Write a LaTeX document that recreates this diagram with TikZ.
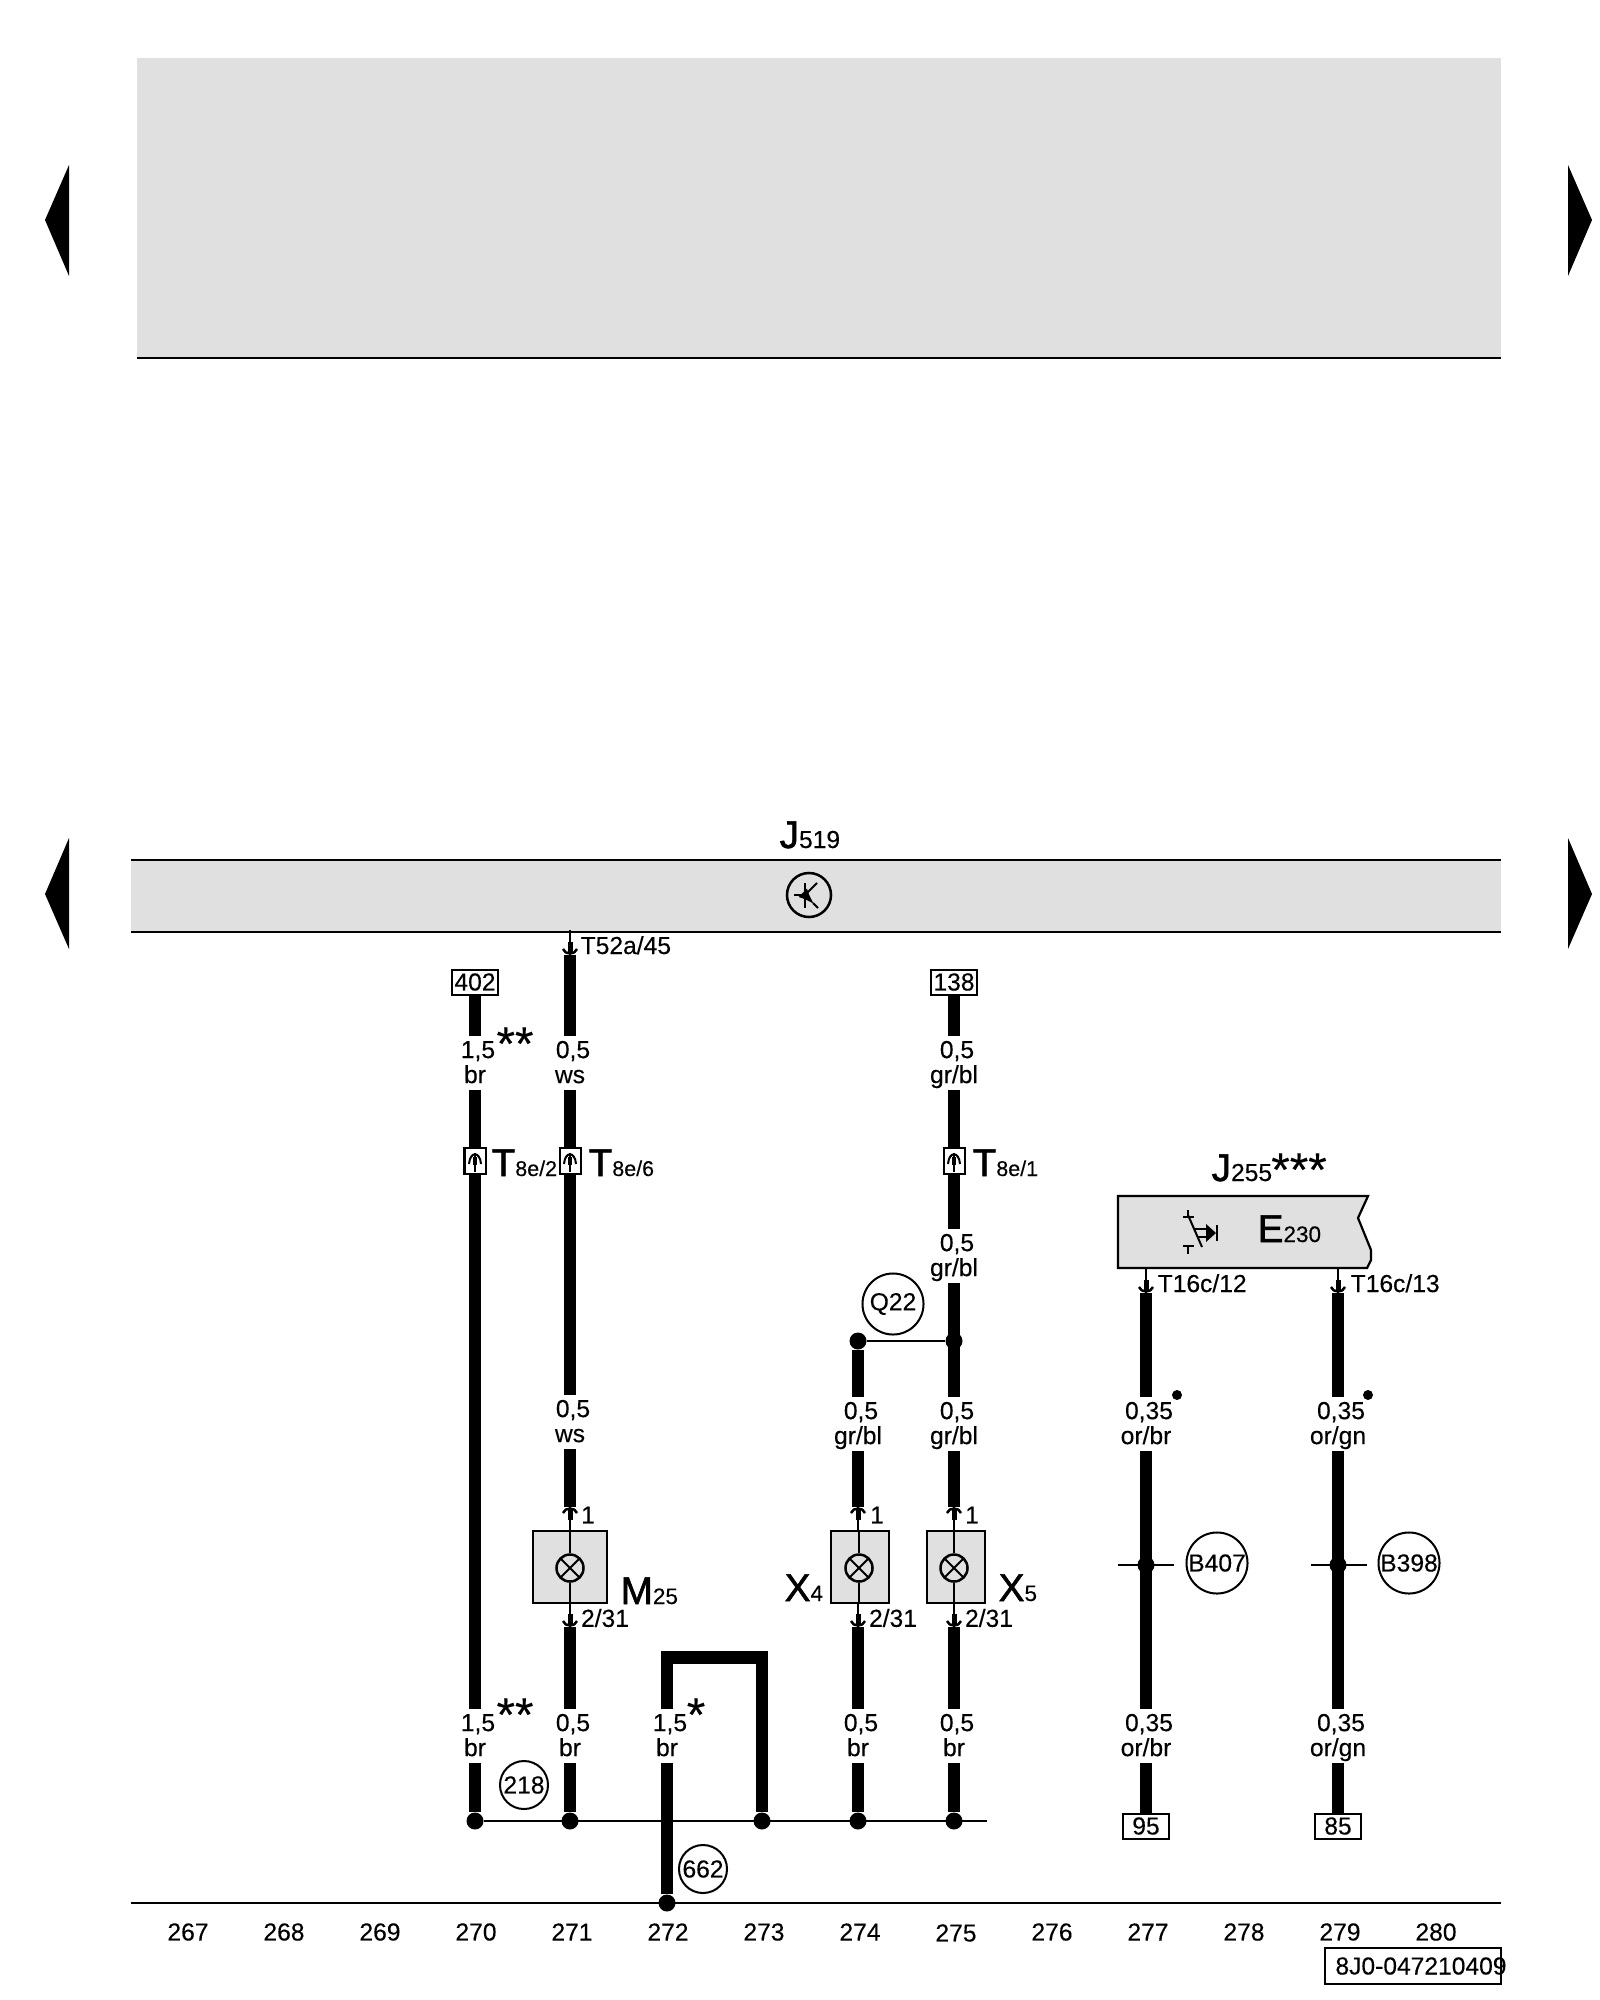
\documentclass[tikz,border=0pt]{standalone}
\usepackage{fontspec}
\setmainfont[FakeBold=0.25]{Liberation Sans}
\newfontfamily\bigfam[FakeBold=1.5]{Liberation Sans}
\usetikzlibrary{positioning}
\definecolor{panelgray}{HTML}{E0E0E0}
\newcommand{\wfont}{\fontsize{7}{7.1}\selectfont}
\newcommand{\sfont}{\fontsize{6.4}{7.1}\selectfont}
\newcommand{\tfont}{\fontsize{6.1}{7.1}\selectfont}
\newcommand{\bfont}{\bigfam\fontsize{11}{12}\selectfont}
\newcommand{\wlab}[2]{\hspace*{1.7pt}#1\rule{0pt}{6pt}\\#2\rule[-1.7pt]{0pt}{1.7pt}}
\newcommand{\plab}[2]{{\bfont #1}{\sfont #2}}
\newcommand{\jlab}[2]{{\bfont #1}{\wfont #2}}
\newcommand{\tlab}[2]{{\bfont #1}{\tfont #2}}
\tikzset{
  wire/.style={line width=0.125cm},
  fine/.style={line width=0.022cm},
  panel/.style={fill=panelgray},
  device/.style={draw,fill=panelgray,line width=0.022cm},
  wlabel/.style={align=center},
  termbox/.style={draw,fill=white,line width=0.02cm,minimum width=0.46cm,minimum height=0.25cm},
  plugbox/.style={draw,fill=white,line width=0.02cm,minimum width=0.21cm,minimum height=0.26cm},
  jdot/.style={circle,fill=black,minimum size=0.17cm},
  ringsmall/.style={draw,circle,line width=0.02cm,minimum size=0.48cm},
  ringbig/.style={draw,circle,line width=0.02cm,minimum size=0.61cm},
  lamp/.style={draw,circle,line width=0.025cm,minimum size=0.27cm,path picture={
    \draw[line width=0.02cm] (path picture bounding box.north west) -- (path picture bounding box.south east);
    \draw[line width=0.02cm] (path picture bounding box.north east) -- (path picture bounding box.south west);}},
  stars/.style={font=\fontsize{13.5}{14}\selectfont,anchor=base},
  big/.style={anchor=base west},
  pinsym/.pic={
    \draw[line width=0.018cm] (0,-25) -- (0,0);
    \draw[line width=0.05cm] (0,-13) -- (0,-3);
    \draw[line width=0.025cm] (-7,-6) .. controls (-5,0) and (5,0) .. (7,-6);
  },
  plugsym/.pic={
    \draw[line width=0.015cm] (0,-8) -- (0,11);
    \draw[line width=0.04cm] (0,-4) -- (0,4);
    \draw[line width=0.02cm] (-6,3) .. controls (-5,-10) and (5,-10) .. (6,3);
  }
}
\begin{document}
\begin{tikzpicture}[x=0.01cm,y=-0.01cm,every node/.style={font=\wfont,inner sep=0pt}]
  \useasboundingbox (0,0) rectangle (1600,2000);

  % page markers and the two panels
  \fill (69,165) -- (69,276) -- (45,220) -- cycle;
  \fill (1568,165) -- (1568,276) -- (1592,220) -- cycle;
  \fill (69,838) -- (69,949) -- (45,894) -- cycle;
  \fill (1568,838) -- (1568,949) -- (1592,894) -- cycle;
  \fill[panel] (137,58) rectangle (1501,358);
  \draw[line width=0.025cm] (137,358) -- (1501,358);
  \fill[panel] (131,860) rectangle (1501,932);
  \draw[line width=0.025cm] (131,860) -- (1501,860);
  \draw[line width=0.025cm] (131,932) -- (1501,932);
  \node[big] (j519) at (779,848) {\jlab{J}{519}};

  % transistor sign
  \node[draw,circle,line width=0.025cm,minimum size=0.44cm] (trans) at (809,895) {};
  \draw[line width=0.02cm] (794,895) -- (805,895);
  \draw[line width=0.02cm] (805,883) -- (805,908);
  \draw[line width=0.02cm] (805,895) -- (817,883);
  \draw[line width=0.02cm,-latex] (805,895) -- (814,904);
  \draw[line width=0.02cm] (813,903) -- (818,908);

  % J255 / E230 block
  \fill[panel,draw=black,line width=0.022cm] (1118,1196) -- (1368,1196) -- (1358,1218) -- (1371,1250)
    -- (1371,1260) -- (1367,1268) -- (1118,1268) -- cycle;
  \node[big] (j255) at (1211,1181) {\jlab{J}{255}};
  \node[stars] (s255) at (1299,1186) {***};
  \node[big] (e230) at (1257,1242) {\plab{E}{230}};
  \draw[line width=0.02cm] (1188,1210) -- (1188,1217);
  \draw[line width=0.02cm] (1183,1217) -- (1194,1217);
  \draw[line width=0.02cm] (1188,1215) -- (1202,1247);
  \draw[line width=0.02cm] (1183,1246) -- (1194,1246);
  \draw[line width=0.02cm] (1188,1246) -- (1188,1254);
  \draw[line width=0.015cm] (1195,1229) -- (1207,1229);
  \draw[line width=0.015cm] (1198,1237) -- (1207,1237);
  \fill (1206,1224) -- (1216,1233) -- (1206,1242) -- cycle;
  \draw[line width=0.02cm] (1217,1225) -- (1217,1241);

  % devices
  \node[device,minimum width=0.74cm,minimum height=0.72cm] (m25) at (570,1567) {};
  \node[device,minimum width=0.58cm,minimum height=0.72cm] (x4) at (860,1567) {};
  \node[device,minimum width=0.58cm,minimum height=0.72cm] (x5) at (956,1567) {};
  \node[lamp] (lm25) at (570,1568) {};
  \node[lamp] (lx4) at (859,1568) {};
  \node[lamp] (lx5) at (954,1568) {};
  \draw[fine] (lm25 |- m25.north) -- (lm25);
  \draw[fine] (lm25) -- (lm25 |- m25.south);
  \draw[fine] (lx4 |- x4.north) -- (lx4);
  \draw[fine] (lx4) -- (lx4 |- x4.south);
  \draw[fine] (lx5 |- x5.north) -- (lx5);
  \draw[fine] (lx5) -- (lx5 |- x5.south);
  \node[big] (tm25) at (620,1604) {\plab{M}{25}};
  \node[big] (tx4) at (784,1601) {\plab{X}{4}};
  \node[big] (tx5) at (998,1601) {\plab{X}{5}};

  % terminals and plugs
  \node[termbox] (t402) at (475,982) {402};
  \node[termbox] (t138) at (954,982) {138};
  \node[termbox] (t95) at (1146,1826) {95};
  \node[termbox] (t85) at (1338,1826) {85};
  \node[plugbox] (p2) at (475,1161) {};
  \node[plugbox] (p6) at (570,1161) {};
  \node[plugbox] (p1) at (954,1161) {};
  \pic at (p2) {plugsym};
  \pic at (p6) {plugsym};
  \pic at (p1) {plugsym};
  \node[big] (tp2) at (491,1176) {\tlab{T}{8e/2}};
  \node[big] (tp6) at (588,1176) {\tlab{T}{8e/6}};
  \node[big] (tp1) at (972,1176) {\tlab{T}{8e/1}};

  % wire labels
  \node[wlabel] (a1) at (475,1063) {\wlab{1,5}{br}};
  \node[wlabel] (a2) at (570,1063) {\wlab{0,5}{ws}};
  \node[wlabel] (a3) at (954,1063) {\wlab{0,5}{gr/bl}};
  \node[wlabel] (a4) at (954,1256) {\wlab{0,5}{gr/bl}};
  \node[wlabel] (a5) at (570,1422) {\wlab{0,5}{ws}};
  \node[wlabel] (a6) at (858,1424) {\wlab{0,5}{gr/bl}};
  \node[wlabel] (a7) at (954,1424) {\wlab{0,5}{gr/bl}};
  \node[wlabel] (a8) at (1146,1424) {\wlab{0,35}{or/br}};
  \node[wlabel] (a9) at (1338,1424) {\wlab{0,35}{or/gn}};
  \node[wlabel] (b1) at (475,1736) {\wlab{1,5}{br}};
  \node[wlabel] (b2) at (570,1736) {\wlab{0,5}{br}};
  \node[wlabel] (b3) at (667,1736) {\wlab{1,5}{br}};
  \node[wlabel] (b4) at (858,1736) {\wlab{0,5}{br}};
  \node[wlabel] (b5) at (954,1736) {\wlab{0,5}{br}};
  \node[wlabel] (b6) at (1146,1736) {\wlab{0,35}{or/br}};
  \node[wlabel] (b7) at (1338,1736) {\wlab{0,35}{or/gn}};
  \node[stars] (s1) at (515,1060) {**};
  \node[stars] (s2) at (515,1731) {**};
  \node[stars] (s3) at (696,1731) {*};
  \node[circle,fill=black,minimum size=0.1cm] (m1) at (1177,1395) {};
  \node[circle,fill=black,minimum size=0.1cm] (m2) at (1368,1395) {};

  % pin ends
  \coordinate (q1) at (570,955);
  \coordinate (q2) at (570,1507);
  \coordinate (q3) at (570,1627);
  \coordinate (q4) at (858,1507);
  \coordinate (q5) at (858,1627);
  \coordinate (q6) at (954,1507);
  \coordinate (q7) at (954,1627);
  \coordinate (q8) at (1146,1293);
  \coordinate (q9) at (1338,1293);
  \pic at (q1) {pinsym};
  \pic[yscale=-1] at (q2) {pinsym};
  \pic at (q3) {pinsym};
  \pic[yscale=-1] at (q4) {pinsym};
  \pic at (q5) {pinsym};
  \pic[yscale=-1] at (q6) {pinsym};
  \pic at (q7) {pinsym};
  \pic at (q8) {pinsym};
  \pic at (q9) {pinsym};
  \node[anchor=base west] (c1) at (580,954) {T52a/45};
  \node (c2) at (588,1515) {1};
  \node (c3) at (605,1618) {2/31};
  \node (c4) at (877,1515) {1};
  \node (c5) at (893,1618) {2/31};
  \node (c6) at (972,1515) {1};
  \node (c7) at (989,1618) {2/31};
  \node[anchor=base west] (c8) at (1157,1292) {T16c/12};
  \node[anchor=base west] (c9) at (1350,1292) {T16c/13};

  % joints
  \node[jdot] (d1) at (475,1821) {};
  \node[jdot] (d2) at (570,1821) {};
  \node[jdot] (d3) at (762,1821) {};
  \node[jdot] (d4) at (858,1821) {};
  \node[jdot] (d5) at (954,1821) {};
  \node[jdot] (d6) at (667,1903) {};
  \node[jdot] (d7) at (858,1341) {};
  \node[jdot] (d8) at (954,1341) {};
  \node[jdot] (d9) at (1146,1565) {};
  \node[jdot] (d10) at (1338,1565) {};
  \coordinate (busend) at (987,1821);
  \coordinate (lineleft) at (131,1903);
  \coordinate (lineright) at (1501,1903);
  \coordinate (k1) at (667,1657.5);
  \coordinate (k2) at (762,1657.5);

  % wires
  \draw[wire] (t402) -- (a1);
  \draw[wire] (a1) -- (p2);
  \draw[wire] (p2) -- (b1);
  \draw[wire] (b1) -- (d1);
  \draw[wire] (q1) -- (a2);
  \draw[wire] (a2) -- (p6);
  \draw[wire] (p6) -- (a5);
  \draw[wire] (a5) -- (q2);
  \draw[wire] (q3) -- (b2);
  \draw[wire] (b2) -- (d2);
  \draw[wire] (b3) -- (k1) -- (k2) -- (d3);
  \draw[wire] (b3) -- (d6);
  \draw[wire] (d7) -- (a6);
  \draw[wire] (a6) -- (q4);
  \draw[wire] (q5) -- (b4);
  \draw[wire] (b4) -- (d4);
  \draw[wire] (t138) -- (a3);
  \draw[wire] (a3) -- (p1);
  \draw[wire] (p1) -- (a4);
  \draw[wire] (a4) -- (a7);
  \draw[wire] (a7) -- (q6);
  \draw[wire] (q7) -- (b5);
  \draw[wire] (b5) -- (d5);
  \draw[wire] (q8) -- (a8);
  \draw[wire] (a8) -- (b6);
  \draw[wire] (b6) -- (t95);
  \draw[wire] (q9) -- (a9);
  \draw[wire] (a9) -- (b7);
  \draw[wire] (b7) -- (t85);
  \draw[fine] (d1) -- (busend);
  \draw[fine] (d7) -- (d8);
  \draw[fine] (1118,1565) -- (1174,1565);
  \draw[fine] (1311,1565) -- (1367,1565);
  \draw[line width=0.025cm] (lineleft) -- (lineright);

  % ring marks
  \node[ringbig] (q22) at (893,1304) {Q22};
  \node[ringbig] (b407) at (1217,1563) {B407};
  \node[ringbig] (b398) at (1409,1563) {B398};
  \node[ringsmall] (r218) at (524,1785) {218};
  \node[ringsmall] (r662) at (703,1869) {662};

  % column numbers
  \begin{scope}[every node/.style={font=\wfont,inner sep=0pt}]
    \node (n267) at (188,1932) {267};
    \node (n268) at (284,1932) {268};
    \node (n269) at (380,1932) {269};
    \node (n270) at (476,1932) {270};
    \node (n271) at (572,1932) {271};
    \node (n272) at (668,1932) {272};
    \node (n273) at (764,1932) {273};
    \node (n274) at (860,1932) {274};
    \node (n275) at (956,1933) {275};
    \node (n276) at (1052,1932) {276};
    \node (n277) at (1148,1932) {277};
    \node (n278) at (1244,1932) {278};
    \node (n279) at (1340,1932) {279};
    \node (n280) at (1436,1932) {280};
  \end{scope}
  \node[draw,line width=0.025cm,minimum width=1.76cm,minimum height=0.36cm] (docbox) at (1413,1966) {};
  \node (doc) at (1421,1966) {8J0-047210409};
\end{tikzpicture}
\end{document}
